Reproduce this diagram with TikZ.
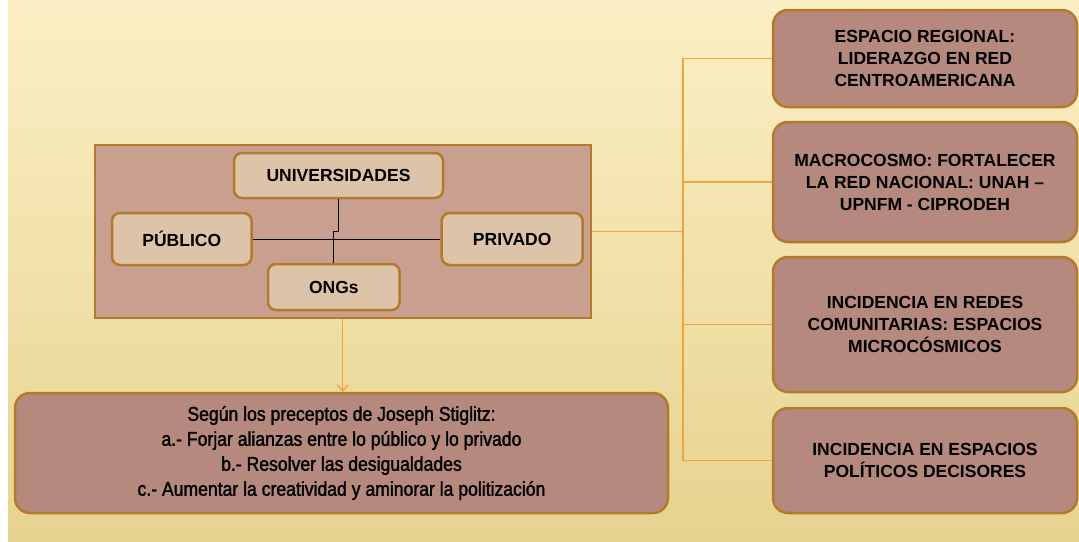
\documentclass[tikz,border=0pt]{standalone}
\usepackage{fontspec}
\setmainfont{Liberation Sans}
\newfontfamily\narrowfont[FakeStretch=0.88,FakeBold=1.6]{Liberation Sans}
\usetikzlibrary{arrows.meta}
\definecolor{bgtop}{HTML}{FBEFC5}
\definecolor{bgmid}{HTML}{FEF3C9}
\definecolor{bgbot}{HTML}{E7D38F}
\definecolor{brd}{HTML}{B47A2B}
\definecolor{outerfill}{HTML}{C9A08F}
\definecolor{innerfill}{HTML}{DDC3A7}
\definecolor{boxfill}{HTML}{B5897E}
\definecolor{conn}{HTML}{F2A33A}
\tikzset{
  box/.style={draw=brd, line width=2.5pt, align=center, inner sep=0pt,
    font=\fontsize{17.5}{22}\selectfont\bfseries},
  rbox/.style={box, fill=boxfill, rounded corners=15pt, minimum width=304pt},
  ibox/.style={box, fill=innerfill, rounded corners=8pt},
  orangeline/.style={draw=conn, line width=1.3pt},
  blackline/.style={draw=black, line width=0.9pt}
}
\begin{document}
\begin{tikzpicture}[x=1pt,y=-1pt]
\useasboundingbox (0,0) rectangle (1079,541);
\fill[white] (0,0) rectangle (1079,541);
\shade[top color=bgtop, middle color=bgmid, bottom color=bgbot] (8,0) rectangle (1079,541);

% left group
\node[draw=brd, line width=2pt, fill=outerfill, minimum width=496.5pt, minimum height=173pt, inner sep=0pt] (outer) at (342.75,231.5) {};
\node[ibox, minimum width=209pt, minimum height=45pt] (univ) at (338.5,175.5) {UNIVERSIDADES};
\node[ibox, minimum width=139.5pt, minimum height=52pt] (pub) at (181.75,239) {PÚBLICO};
\node[ibox, minimum width=141pt, minimum height=52pt] (priv) at (512.2,239) {PRIVADO};
\node[ibox, minimum width=131.6pt, minimum height=46pt] (ongs) at (333.8,287) {ONGs};
\draw[blackline] (pub.east) -- (priv.west);
\draw[blackline] (univ.south) -- ++(0,32) -| (ongs.north);

% bottom box
\node[box, fill=boxfill, rounded corners=15pt, minimum width=653pt, minimum height=120pt,
  font=\narrowfont\fontsize{20}{25}\selectfont] (stig) at (341.5,453)
  {Según los preceptos de Joseph Stiglitz:\\
   a.- Forjar alianzas entre lo público y lo privado\\
   b.- Resolver las desigualdades\\
   c.- Aumentar la creatividad y aminorar la politización};
\draw[orangeline, -{Straight Barb[length=6pt,width=11pt]}] (outer.south) -- (outer.south |- stig.north);

% right boxes
\node[rbox, minimum height=97pt] (r1) at (925,58.5) {ESPACIO REGIONAL:\\LIDERAZGO EN RED\\CENTROAMERICANA};
\node[rbox, minimum height=120pt] (r2) at (925,182) {MACROCOSMO: FORTALECER\\LA RED NACIONAL: UNAH –\\UPNFM - CIPRODEH};
\node[rbox, minimum height=135pt] (r3) at (925,324.5) {INCIDENCIA EN REDES\\COMUNITARIAS: ESPACIOS\\MICROCÓSMICOS};
\node[rbox, minimum height=105pt] (r4) at (925,460.5) {INCIDENCIA EN ESPACIOS\\POLÍTICOS DECISORES};

\draw[orangeline] (outer.east) -- ++(91,0) coordinate (hub);
\draw[orangeline] (hub) |- (r1.west);
\draw[orangeline] (hub) |- (r2.west);
\draw[orangeline] (hub) |- (r3.west);
\draw[orangeline] (hub) |- (r4.west);
\end{tikzpicture}
\end{document}
